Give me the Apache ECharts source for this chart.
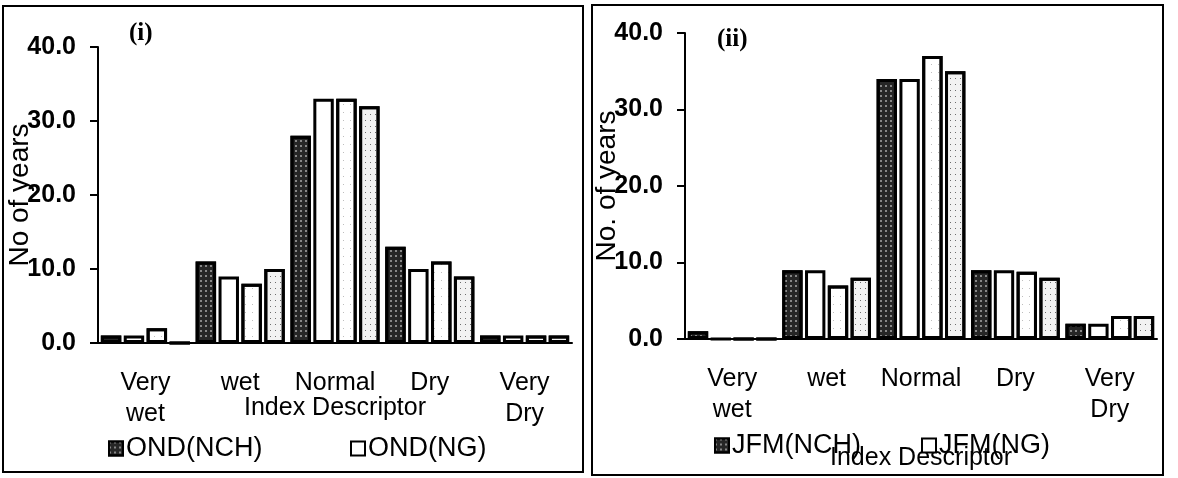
<!DOCTYPE html>
<html>
<head>
<meta charset="utf-8">
<title>Index Descriptor</title>
<script src="https://cdn.jsdelivr.net/npm/echarts@6/dist/echarts.min.js"></script>
<style>
  html, body { margin: 0; padding: 0; background: #fff; }
  #chart { width: 1178px; height: 478px; }
</style>
</head>
<body>
<div id="chart"></div>
<script>
  // categories on the x axis (two-line labels as in the figure)
  var categories = ['Very\nwet', 'wet', 'Normal', 'Dry', 'Very\nDry'];
  var yTicks = [0, 10, 20, 30, 40];

  // panel (i) OND
  var ondNames = ['OND(NCH)', 'OND(NG)', 'OND series 3', 'OND series 4'];
  var ondNCH = [1, 11, 28, 13, 1];
  var ondNG = [1, 9, 33, 10, 1];
  var ondS3 = [2, 8, 33, 11, 1];
  var ondS4 = [0, 10, 32, 9, 1];

  // panel (ii) JFM
  var jfmNames = ['JFM(NCH)', 'JFM(NG)', 'JFM series 3', 'JFM series 4'];
  var jfmNCH = [1, 9, 34, 9, 2];
  var jfmNG = [0, 9, 34, 9, 2];
  var jfmS3 = [0, 7, 37, 8.8, 3];
  var jfmS4 = [0, 8, 35, 8, 3];

  var font = "'Liberation Sans', Arial, sans-serif";

  // fills: dark hatched, white, white dotted, light dotted
  var fills = [
    { color: '#262626', decal: { symbol: 'rect', symbolSize: 1, color: 'rgba(255,255,255,0.45)', dashArrayX: [2, 3], dashArrayY: [2, 3] } },
    { color: '#ffffff' },
    { color: '#ffffff', decal: { symbol: 'rect', symbolSize: 1, color: 'rgba(0,0,0,0.25)', dashArrayX: [1, 6], dashArrayY: [1, 7] } },
    { color: '#f2f2f2', decal: { symbol: 'rect', symbolSize: 1, color: 'rgba(0,0,0,0.55)', dashArrayX: [1, 4], dashArrayY: [1, 5] } }
  ];

  function makeBar(name, data, idx, k) {
    return {
      name: name,
      type: 'bar',
      xAxisIndex: idx,
      yAxisIndex: idx,
      data: data,
      barGap: '12%',
      barCategoryGap: '6%',
      itemStyle: {
        color: fills[k].color,
        decal: fills[k].decal,
        borderColor: '#000',
        borderWidth: 3
      },
      emphasis: { disabled: true },
      animation: false
    };
  }

  function makeX(idx, nameGap) {
    return {
      gridIndex: idx,
      type: 'category',
      data: categories,
      axisLine: { lineStyle: { color: '#000', width: 2 } },
      axisTick: { show: false },
      axisLabel: { color: '#000', fontSize: 25, lineHeight: 31, margin: 25, interval: 0, fontFamily: font },
      name: 'Index Descriptor',
      nameLocation: 'middle',
      nameGap: nameGap,
      nameMoveOverlap: false,
      nameTextStyle: { color: '#000', fontSize: 25, fontFamily: font }
    };
  }

  function makeY(idx, name) {
    return {
      gridIndex: idx,
      type: 'value',
      min: yTicks[0],
      max: yTicks[yTicks.length - 1],
      interval: 10,
      splitLine: { show: false },
      axisLine: { show: true, lineStyle: { color: '#000', width: 2 } },
      axisTick: { show: true, length: 8, lineStyle: { color: '#000', width: 2 } },
      axisLabel: {
        color: '#000', fontSize: 25, fontWeight: 'bold', margin: 22, fontFamily: font,
        formatter: function (v) { return v.toFixed(1); }
      },
      name: name,
      nameLocation: 'middle',
      nameGap: 64,
      nameMoveOverlap: false,
      nameTextStyle: { color: '#000', fontSize: 28, fontFamily: font }
    };
  }

  function makeLegend(name, left, top) {
    return {
      data: [name],
      left: left,
      top: top,
      icon: 'rect',
      itemWidth: 14,
      itemHeight: 14,
      itemGap: 0,
      selectedMode: false,
      textStyle: { color: '#000', fontSize: 27, fontFamily: font, padding: [0, 0, 0, -2] }
    };
  }

  var chart = echarts.init(document.getElementById('chart'));
  chart.setOption({
    backgroundColor: '#ffffff',
    animation: false,
    title: [
      { text: '(i)', left: 124, top: 16, textStyle: { fontFamily: "'Liberation Serif', 'Times New Roman', serif", fontSize: 25, fontWeight: 'bold', color: '#000' } },
      { text: '(ii)', left: 712, top: 22, textStyle: { fontFamily: "'Liberation Serif', 'Times New Roman', serif", fontSize: 25, fontWeight: 'bold', color: '#000' } }
    ],
    legend: [
      makeLegend(ondNames[0], 103, 430),
      makeLegend(ondNames[1], 345, 430),
      makeLegend(jfmNames[0], 709, 427),
      makeLegend(jfmNames[1], 916, 427)
    ],
    grid: [
      { left: 98, width: 474, top: 47, bottom: 135 },
      { left: 685, width: 472, top: 33, bottom: 139 }
    ],
    xAxis: [makeX(0, 53), makeX(1, 107)],
    yAxis: [makeY(0, 'No of years'), makeY(1, 'No. of years')],
    series: [
      makeBar(ondNames[0], ondNCH, 0, 0),
      makeBar(ondNames[1], ondNG, 0, 1),
      makeBar(ondNames[2], ondS3, 0, 2),
      makeBar(ondNames[3], ondS4, 0, 3),
      makeBar(jfmNames[0], jfmNCH, 1, 0),
      makeBar(jfmNames[1], jfmNG, 1, 1),
      makeBar(jfmNames[2], jfmS3, 1, 2),
      makeBar(jfmNames[3], jfmS4, 1, 3)
    ],
    // panel frames
    graphic: [
      { type: 'rect', shape: { x: 3, y: 6, width: 580, height: 466 }, style: { fill: 'none', stroke: '#000', lineWidth: 2 }, silent: true },
      { type: 'rect', shape: { x: 592, y: 5, width: 571, height: 470 }, style: { fill: 'none', stroke: '#000', lineWidth: 2 }, silent: true }
    ]
  });
</script>
</body>
</html>
